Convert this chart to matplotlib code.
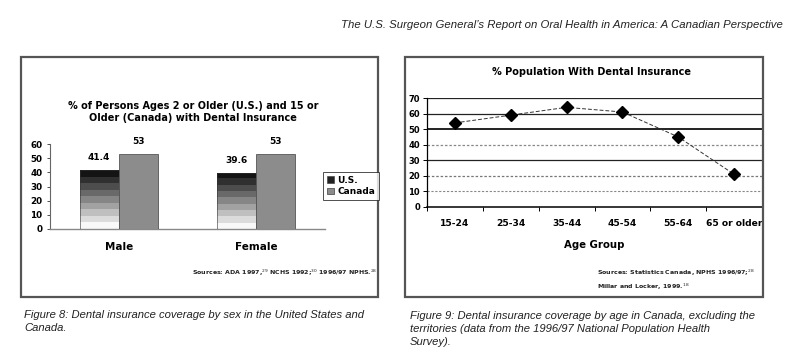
import matplotlib
matplotlib.use("Agg")
import matplotlib.pyplot as plt
import numpy as np
from matplotlib.patches import Rectangle

# ---- data ----
sex_categories = ["Male", "Female"]
us_values = [41.4, 39.6]
canada_values = [53, 53]
us_labels = ["41.4", "39.6"]
canada_labels = ["53", "53"]
left_yticks = [0, 10, 20, 30, 40, 50, 60]

age_groups = ["15-24", "25-34", "35-44", "45-54", "55-64", "65 or older"]
pct_insured = [54, 59, 64, 61, 45, 21]
right_yticks = [0, 10, 20, 30, 40, 50, 60, 70]

header = "The U.S. Surgeon General\u2019s Report on Oral Health in America: A Canadian Perspective"
left_title = "% of Persons Ages 2 or Older (U.S.) and 15 or\nOlder (Canada) with Dental Insurance"
right_title = "% Population With Dental Insurance"
left_source = "Sources: ADA 1997,$^{29}$ NCHS 1992;$^{30}$ 1996/97 NPHS.$^{28}$"
right_source = "Sources: Statistics Canada, NPHS 1996/97;$^{28}$\nMillar and Locker, 1999.$^{18}$"
left_caption = "Figure 8: Dental insurance coverage by sex in the United States and\nCanada."
right_caption = ("Figure 9: Dental insurance coverage by age in Canada, excluding the\n"
                 "territories (data from the 1996/97 National Population Health\nSurvey).")

W, H = 800, 360
fig = plt.figure(figsize=(8, 3.6), dpi=100)
fig.patch.set_facecolor("white")

def fx(x):
    return x / W

def fy(y):
    return 1 - y / H

serif_it = ["Liberation Sans Narrow", "Liberation Sans", "DejaVu Sans"]
chart_font = ["DejaVu Sans"]

# header
fig.text(fx(783), fy(25), header, ha="right", va="center", fontsize=8.2,
         style="italic", family=serif_it, color="#222222")

# panel boxes
for (x0, x1) in [(21, 378), (405, 763)]:
    fig.add_artist(Rectangle((fx(x0), fy(297)), fx(x1) - fx(x0), fy(57) - fy(297),
                             transform=fig.transFigure, fill=False,
                             edgecolor="#555555", linewidth=1.6))

# ---------------- left chart ----------------
axL = fig.add_axes([fx(50), fy(229), fx(325) - fx(50), fy(144) - fy(229)])
xL = np.arange(len(sex_categories))
bw = 0.285
us_bars = axL.bar(xL - bw / 2, us_values, bw, color="none", edgecolor="#333333",
                  linewidth=0.4, zorder=3)
ca_bars = axL.bar(xL + bw / 2, canada_values, bw, color="#8c8c8c", edgecolor="#555555",
                  linewidth=0.6, zorder=3)
# stepped gradient for U.S. bars (dark top, light bottom)
grad = np.linspace(0.97, 0.08, 9).reshape(-1, 1)
for b in us_bars:
    im = axL.imshow(grad, cmap="gray", vmin=0, vmax=1, aspect="auto", origin="lower",
                    extent=(b.get_x(), b.get_x() + b.get_width(), 0, b.get_height()),
                    zorder=2, interpolation="nearest")
    im.set_clip_path(b)
for b, lab in zip(us_bars, us_labels):
    axL.annotate(lab, (b.get_x() + b.get_width() / 2, b.get_height()),
                 xytext=(0, 6), textcoords="offset points", ha="center", va="bottom",
                 fontsize=6.5, fontweight="bold", family=chart_font)
for b, lab in zip(ca_bars, canada_labels):
    axL.annotate(lab, (b.get_x() + b.get_width() / 2, b.get_height()),
                 xytext=(0, 6), textcoords="offset points", ha="center", va="bottom",
                 fontsize=6.5, fontweight="bold", family=chart_font)
axL.set_xlim(-0.5, len(sex_categories) - 0.5)
axL.set_ylim(0, 60)
axL.set_yticks(left_yticks)
axL.set_yticklabels([str(v) for v in left_yticks], fontsize=6.3, fontweight="bold")
axL.set_xticks(xL)
axL.set_xticklabels(sex_categories, fontsize=7.5, fontweight="bold")
axL.tick_params(axis="x", length=0, pad=9)
axL.tick_params(axis="y", length=2.5, width=0.6, pad=3, colors="#333333", labelcolor="black")
for s in ["top", "right"]:
    axL.spines[s].set_visible(False)
axL.spines["left"].set_color("#666666")
axL.spines["left"].set_linestyle((0, (1.5, 0.8)))
axL.spines["left"].set_linewidth(0.8)
axL.spines["bottom"].set_color("#888888")
axL.spines["bottom"].set_linewidth(1.0)
axL.set_facecolor("white")

fig.text(fx(193), fy(112), left_title, ha="center", va="center", fontsize=7.0,
         fontweight="bold", family=chart_font, linespacing=1.35)

leg = fig.legend([us_bars[0], ca_bars[0]], ["U.S.", "Canada"],
                 loc="center", bbox_to_anchor=(fx(351), fy(186)),
                 prop={"size": 6.5, "weight": "bold"}, frameon=True, fancybox=False,
                 handlelength=0.8, handleheight=0.8, handletextpad=0.4,
                 borderpad=0.45, labelspacing=0.25, borderaxespad=0)
leg.get_frame().set_edgecolor("#222222")
leg.get_frame().set_linewidth(0.7)
leg.legend_handles[0].set_facecolor("#222222")

fig.text(fx(377), fy(273), left_source, ha="right", va="center", fontsize=4.5,
         fontweight="bold", family=chart_font, color="#222222")

# ---------------- right chart ----------------
axR = fig.add_axes([fx(427), fy(207), fx(762) - fx(427), fy(98) - fy(207)])
xR = np.arange(len(age_groups))
grid_style = {10: ("#888888", (0, (2, 1.5)), 0.8), 20: ("#777777", (0, (2, 1.5)), 0.9),
              30: ("#222222", "-", 0.9), 40: ("#888888", (0, (2, 1.5)), 0.9),
              50: ("#111111", "-", 1.3), 60: ("#222222", "-", 0.9),
              70: ("#222222", "-", 0.9)}
for v in right_yticks[1:]:
    c, ls, lw = grid_style[v]
    axR.axhline(v, color=c, linestyle=ls, linewidth=lw, zorder=1)
axR.plot(xR, pct_insured, color="#333333", linestyle=(0, (4, 2)), linewidth=0.7,
         marker="D", markersize=6.5, markerfacecolor="black", markeredgecolor="black",
         zorder=3)
axR.set_xlim(-0.5, len(age_groups) - 0.5)
axR.set_ylim(0, 70)
axR.set_yticks(right_yticks)
axR.set_yticklabels([str(v) for v in right_yticks], fontsize=6.0, fontweight="bold")
axR.set_xticks(xR)
axR.set_xticklabels(age_groups, fontsize=6.6, fontweight="bold")
axR.set_xticks(np.arange(len(age_groups) + 1) - 0.5, minor=True)
axR.tick_params(axis="x", which="major", length=0, pad=9)
axR.tick_params(axis="x", which="minor", length=3, width=0.7, direction="out")
axR.tick_params(axis="y", length=3, width=0.7, pad=2)
for s in ["top", "right"]:
    axR.spines[s].set_visible(False)
axR.spines["left"].set_linewidth(0.9)
axR.spines["bottom"].set_linewidth(1.1)
axR.set_xlabel("Age Group", fontsize=7.3, fontweight="bold", labelpad=8)

fig.text(fx(592), fy(72), right_title, ha="center", va="center", fontsize=7.0,
         fontweight="bold", family=chart_font)
fig.text(fx(597), fy(280), right_source, ha="left", va="center", fontsize=4.5,
         fontweight="bold", family=chart_font, color="#222222", linespacing=1.6)

# ---------------- captions ----------------
fig.text(fx(24), fy(310), left_caption,
         ha="left", va="top", fontsize=8.1, style="italic", family=serif_it,
         color="#222222", linespacing=1.35)
fig.text(fx(410), fy(311), right_caption,
         ha="left", va="top", fontsize=8.1, style="italic", family=serif_it,
         color="#222222", linespacing=1.35)

fig.savefig("out.png", dpi=100, facecolor="white")
